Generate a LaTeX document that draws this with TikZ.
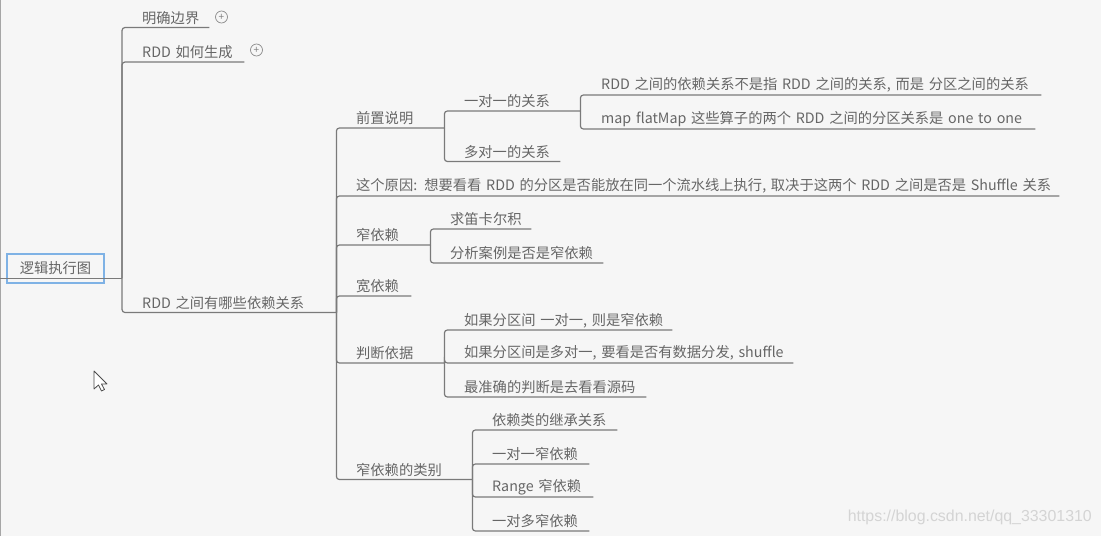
\documentclass[tikz,border=0pt]{standalone}
\usepackage{fontspec}
\setmainfont{Noto Sans CJK SC}
\newfontfamily\markfont{Liberation Sans}
\usepackage{tikz}
\definecolor{rootBlue}{RGB}{127,178,229}

\begin{document}
\begin{tikzpicture}[x=1pt, y=-1pt, font=\fontsize{14.27}{16}\selectfont]
        \tikzstyle{topicStyle} = [anchor=south west, text width=#1, align=left,
            inner xsep=0, inner ysep=0, minimum height=19pt, text=black!60]
        \tikzstyle{rootStyle} = [draw=rootBlue, line width=2.2pt, minimum width=97pt,
            minimum height=29pt, inner sep=0, text=black!60]
        \tikzstyle{plusStyle} = [circle, draw=black!45, line width=0.7pt, minimum size=12pt,
            inner sep=0, text=black!50, font=\fontsize{10}{10}\selectfont]
        \tikzstyle{greyEdge} = [draw=black!52, line width=1.2pt, rounded corners=3pt]
        \fill[black!3.5] (0,0) rectangle (1101,536);
        \useasboundingbox (0,0) rectangle (1101,536);
        \draw[black!35, line width=1pt] (0.5,0) -- (0.5,536);
        \node[rootStyle] (0) at (55.5,268.5) {逻辑执行图};
        \coordinate (start) at (0,278);
        \coordinate (hub) at (122,278);
        \node[topicStyle=67pt] (1) at (142,27.5) {明确边界};
        \node[topicStyle=102pt] (2) at (142,62) {RDD 如何生成};
        \node[topicStyle=194pt] (3) at (142,312.5) {RDD 之间有哪些依赖关系};
        \node[topicStyle=88pt] (4) at (356,128) {前置说明};
        \node[topicStyle=703pt] (5) at (356,196) {这个原因: 想要看看 RDD 的分区是否能放在同一个流水线上执行, 取决于这两个 RDD 之间是否是 Shuffle 关系};
        \node[topicStyle=74pt] (6) at (356,245) {窄依赖};
        \node[topicStyle=55pt] (7) at (356,296) {宽依赖};
        \node[topicStyle=88pt] (8) at (356,363) {判断依据};
        \node[topicStyle=116pt] (9) at (356,479.5) {窄依赖的类别};
        \node[topicStyle=116pt] (10) at (464,111) {一对一的关系};
        \node[topicStyle=96pt] (11) at (464,161.5) {多对一的关系};
        \node[topicStyle=440pt] (12) at (601,95) {RDD 之间的依赖关系不是指 RDD 之间的关系, 而是 分区之间的关系};
        \node[topicStyle=434pt] (13) at (601,129) {map flatMap 这些算子的两个 RDD 之间的分区关系是 one to one};
        \node[topicStyle=81pt] (14) at (450,229) {求笛卡尔积};
        \node[topicStyle=153pt] (15) at (450,263) {分析案例是否是窄依赖};
        \node[topicStyle=208pt] (16) at (464,330) {如果分区间 一对一, 则是窄依赖};
        \node[topicStyle=329pt] (17) at (464,363) {如果分区间是多对一, 要看是否有数据分发, shuffle};
        \node[topicStyle=182pt] (18) at (464,397) {最准确的判断是去看看源码};
        \node[topicStyle=125pt] (19) at (492,430) {依赖类的继承关系};
        \node[topicStyle=97pt] (20) at (492,464) {一对一窄依赖};
        \node[topicStyle=101pt] (21) at (492,497) {Range 窄依赖};
        \node[topicStyle=97pt] (22) at (492,531) {一对多窄依赖};
        \node[plusStyle] (plus1) at (221.5,17) {+};
        \node[plusStyle] (plus2) at (256.5,50) {+};
        \path[greyEdge, line width=1pt] (start) -- (hub);
        \foreach \to in {1,2,3}
            \path[greyEdge] (hub) |- (\to.south east);
        \foreach \from/\to in {3/4, 3/5, 3/6, 3/7, 3/8, 3/9, 4/10, 4/11, 10/12, 10/13,
                                6/14, 6/15, 8/16, 8/17, 8/18, 9/19, 9/20, 9/21, 9/22}
            \path[greyEdge] (\from.south east) |- (\to.south east);
        \node[anchor=east, inner sep=0, text=black!17, font=\markfont\fontsize{15.9}{16}\selectfont]
            (mark) at (1092,517) {https://blog.csdn.net/qq\_33301310};
        \draw[fill=white, draw=black!70, line width=0.8pt, line join=round] (94,371) -- (94,389) -- (98.5,385)
            -- (101.5,391) -- (104.5,389.5) -- (101.5,384) -- (107,384) -- cycle;
    \end{tikzpicture}
\end{document}
